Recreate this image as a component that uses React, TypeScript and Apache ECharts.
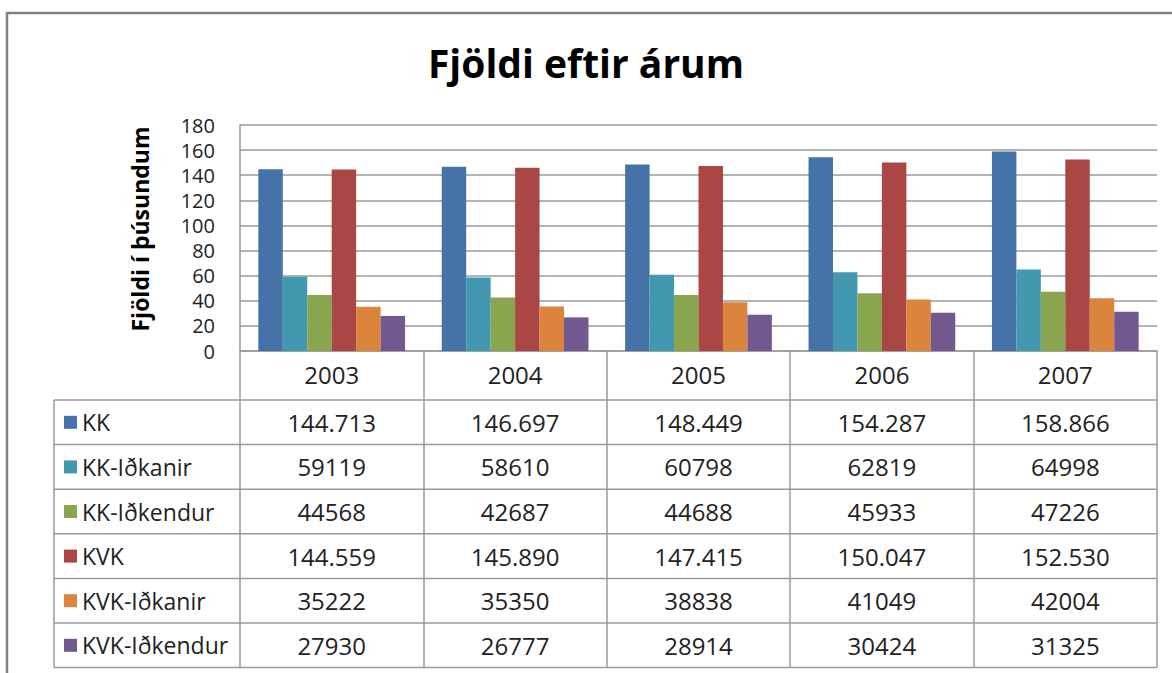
import React, { useEffect, useRef } from "react";
import * as echarts from "echarts";

const years = ["2003", "2004", "2005", "2006", "2007"];
const seriesNames = ["KK", "KK-Iðkanir", "KK-Iðkendur", "KVK", "KVK-Iðkanir", "KVK-Iðkendur"];
// KK and KVK are given in thousands (as in the table), the others as raw counts
const kk = [144.713, 146.697, 148.449, 154.287, 158.866];
const kkIdkanir = [59119, 58610, 60798, 62819, 64998];
const kkIdkendur = [44568, 42687, 44688, 45933, 47226];
const kvk = [144.559, 145.89, 147.415, 150.047, 152.53];
const kvkIdkanir = [35222, 35350, 38838, 41049, 42004];
const kvkIdkendur = [27930, 26777, 28914, 30424, 31325];
const colors = ["#4572A7", "#4198AF", "#89A54E", "#AA4643", "#DB843D", "#71588F"];
const yMin = 0;
const yMax = 180;
const yInterval = 20;

const FONT = "'Open Sans', 'Noto Sans', sans-serif";

const W = 1172;
const H = 673;
const gridLeft = 240;
const gridRight = 1157;
const gridTop = 125;
const gridBottom = 351;
const headerBottom = 400;
const rowH = 44.6;
const tableLeft = 54;

export default function App() {
  const ref = useRef<HTMLDivElement>(null);
  useEffect(() => {
    if (!ref.current) return;
    const chart = echarts.init(ref.current, undefined, { renderer: "svg" });
    const barValues = [
      kk,
      kkIdkanir.map((v) => v / 1000),
      kkIdkendur.map((v) => v / 1000),
      kvk,
      kvkIdkanir.map((v) => v / 1000),
      kvkIdkendur.map((v) => v / 1000),
    ];
    const tableText = [
      kk.map((v) => v.toFixed(3)),
      kkIdkanir.map((v) => String(v)),
      kkIdkendur.map((v) => String(v)),
      kvk.map((v) => v.toFixed(3)),
      kvkIdkanir.map((v) => String(v)),
      kvkIdkendur.map((v) => String(v)),
    ];
    const gridColor = "#9a9a9a";
    chart.setOption({
      animation: false,
      backgroundColor: "#ffffff",
      title: {
        text: "Fjöldi eftir árum",
        left: "center",
        top: 38,
        textStyle: { fontFamily: FONT, fontSize: 39, fontWeight: "bold", color: "#000" },
      },
      grid: {
        left: gridLeft,
        right: W - gridRight,
        top: gridTop,
        bottom: H - gridBottom,
      },
      xAxis: {
        type: "category",
        data: years,
        axisLine: { show: true, lineStyle: { color: gridColor, width: 1.5 } },
        axisTick: {
          show: true,
          alignWithLabel: false,
          length: headerBottom + rowH * 6 - gridBottom,
          lineStyle: { color: gridColor, width: 1.5 },
        },
        axisLabel: {
          fontFamily: FONT,
          fontSize: 24,
          color: "#222",
          margin: 11,
        },
      },
      yAxis: {
        type: "value",
        min: yMin,
        max: yMax,
        interval: yInterval,
        axisLine: { show: true, lineStyle: { color: gridColor, width: 1.5 } },
        axisTick: { show: false },
        splitLine: { show: true, lineStyle: { color: gridColor, width: 1.5 } },
        axisLabel: { fontFamily: FONT, fontSize: 20, lineHeight: 22, color: "#222", margin: 25 },
      },
      series: seriesNames.map((name, i) => ({
        type: "bar",
        name,
        data: barValues[i],
        barGap: "0%",
        barCategoryGap: "20%",
        itemStyle: { color: colors[i] },
      })),
    });

    const centers = years.map((_, i) => chart.convertToPixel({ xAxisIndex: 0 }, i) as number);
    const els: any[] = [];
    els.push({
      type: "rect",
      shape: { x: 7, y: 13, width: 1250, height: 750 },
      style: { fill: "none", stroke: "#808080", lineWidth: 2.5 },
      z: 100,
    });
    els.push({
      type: "text",
      x: 140,
      y: 229,
      rotation: Math.PI / 2,
      style: {
        text: "Fjöldi í þúsundum",
        fontFamily: FONT,
        fontSize: 23,
        fontWeight: "bold",
        fill: "#000",
        textAlign: "center",
        textVerticalAlign: "middle",
      },
      z: 11,
    });
    for (let r = 0; r <= 6; r++) {
      const y = headerBottom + r * rowH;
      els.push({
        type: "line",
        shape: { x1: tableLeft, y1: y, x2: gridRight, y2: y },
        style: { stroke: gridColor, lineWidth: 1.5 },
        z: 10,
      });
    }
    els.push({
      type: "line",
      shape: { x1: tableLeft, y1: headerBottom, x2: tableLeft, y2: headerBottom + rowH * 6 },
      style: { stroke: gridColor, lineWidth: 1.5 },
      z: 10,
    });
    seriesNames.forEach((name, r) => {
      const cy = headerBottom + (r + 0.5) * rowH;
      els.push({
        type: "rect",
        shape: { x: 64, y: cy - 6.5, width: 13, height: 13 },
        style: { fill: colors[r] },
        z: 11,
      });
      els.push({
        type: "text",
        x: 82,
        y: cy,
        style: {
          text: name,
          fontFamily: FONT,
          fontSize: 23,
          fill: "#222",
          textAlign: "left",
          textVerticalAlign: "middle",
        },
        z: 11,
      });
      centers.forEach((cx, c) => {
        els.push({
          type: "text",
          x: cx,
          y: cy,
          style: {
            text: tableText[r][c],
            fontFamily: FONT,
            fontSize: 24,
            fill: "#222",
            textAlign: "center",
            textVerticalAlign: "middle",
          },
          z: 11,
        });
      });
    });
    chart.setOption({ graphic: { elements: els } });
    return () => chart.dispose();
  }, []);
  return (
    <div
      ref={ref}
      style={{ position: "fixed", left: 0, top: 0, width: W, height: H, background: "#fff" }}
    />
  );
}
